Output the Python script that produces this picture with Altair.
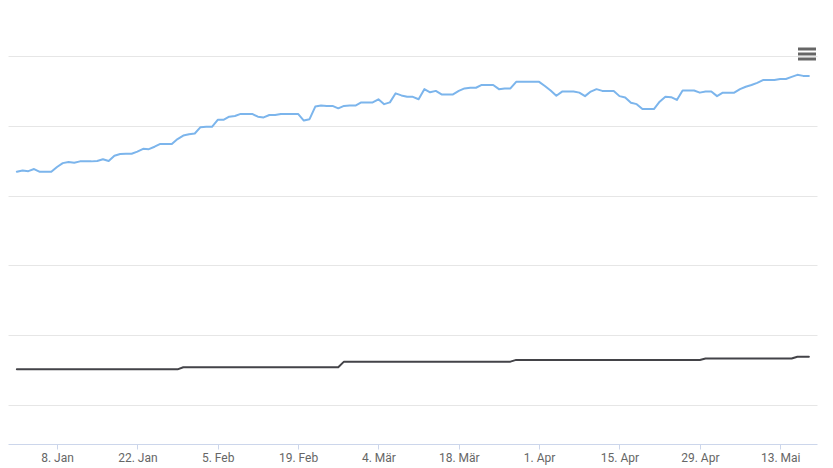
import altair as alt
import pandas as pd

# ---- data (daily values, 1 Jan – 18 May 2024) ----
dates = pd.date_range("2024-01-01", periods=139, freq="D").strftime("%Y-%m-%d").tolist()

series_blue = [
    66.8, 67.2, 67.0, 67.6, 66.8, 66.8, 66.8, 68.2, 69.3, 69.6,
    69.4, 69.8, 69.8, 69.8, 69.9, 70.4, 69.9, 71.4, 71.9, 72.0,
    72.0, 72.6, 73.4, 73.3, 74.0, 74.8, 74.8, 74.8, 76.2, 77.2,
    77.6, 77.8, 79.6, 79.7, 79.7, 81.7, 81.7, 82.6, 82.8, 83.4,
    83.4, 83.4, 82.6, 82.4, 83.1, 83.1, 83.4, 83.4, 83.4, 83.4,
    81.5, 81.9, 85.5, 85.8, 85.7, 85.7, 85.0, 85.7, 85.8, 85.8,
    86.7, 86.7, 86.7, 87.6, 86.2, 86.7, 89.3, 88.7, 88.3, 88.3,
    87.6, 90.5, 89.6, 90.0, 89.0, 89.0, 89.0, 90.0, 90.7, 90.9,
    90.9, 91.7, 91.7, 91.7, 90.5, 90.7, 90.7, 92.6, 92.6, 92.6,
    92.6, 92.6, 91.4, 90.1, 88.6, 89.8, 89.8, 89.8, 89.5, 88.5,
    89.8, 90.5, 90.0, 90.0, 90.0, 88.5, 88.1, 86.6, 86.2, 84.8,
    84.8, 84.8, 86.9, 88.3, 88.2, 87.4, 90.1, 90.1, 90.1, 89.5,
    89.8, 89.8, 88.5, 89.5, 89.5, 89.5, 90.5, 91.2, 91.7, 92.3,
    93.1, 93.1, 93.1, 93.4, 93.4, 94.0, 94.6, 94.3, 94.3,
]

series_dark = [
    10.2, 10.2, 10.2, 10.2, 10.2, 10.2, 10.2, 10.2, 10.2, 10.2,
    10.2, 10.2, 10.2, 10.2, 10.2, 10.2, 10.2, 10.2, 10.2, 10.2,
    10.2, 10.2, 10.2, 10.2, 10.2, 10.2, 10.2, 10.2, 10.2, 10.8,
    10.8, 10.8, 10.8, 10.8, 10.8, 10.8, 10.8, 10.8, 10.8, 10.8,
    10.8, 10.8, 10.8, 10.8, 10.8, 10.8, 10.8, 10.8, 10.8, 10.8,
    10.8, 10.8, 10.8, 10.8, 10.8, 10.8, 10.8, 12.4, 12.4, 12.4,
    12.4, 12.4, 12.4, 12.4, 12.4, 12.4, 12.4, 12.4, 12.4, 12.4,
    12.4, 12.4, 12.4, 12.4, 12.4, 12.4, 12.4, 12.4, 12.4, 12.4,
    12.4, 12.4, 12.4, 12.4, 12.4, 12.4, 12.4, 12.9, 12.9, 12.9,
    12.9, 12.9, 12.9, 12.9, 12.9, 12.9, 12.9, 12.9, 12.9, 12.9,
    12.9, 12.9, 12.9, 12.9, 12.9, 12.9, 12.9, 12.9, 12.9, 12.9,
    12.9, 12.9, 12.9, 12.9, 12.9, 12.9, 12.9, 12.9, 12.9, 12.9,
    13.3, 13.3, 13.3, 13.3, 13.3, 13.3, 13.3, 13.3, 13.3, 13.3,
    13.3, 13.3, 13.3, 13.3, 13.3, 13.3, 13.8, 13.8, 13.8,
]

series_names = ["A", "B"]
series_colors = ["#7cb5ec", "#434348"]

tick_dates = [(1, 8), (1, 22), (2, 5), (2, 19), (3, 4), (3, 18),
              (4, 1), (4, 15), (4, 29), (5, 13)]
months_de = ["Jan", "Feb", "Mär", "Apr", "Mai", "Jun",
             "Jul", "Aug", "Sep", "Okt", "Nov", "Dez"]
grid_values = [0, 20, 40, 60, 80, 100]

# ---- table ----
df = pd.DataFrame({
    "date": dates + dates,
    "series": [series_names[0]] * len(dates) + [series_names[1]] * len(dates),
    "value": series_blue + series_dark,
})

month_arr = "[" + ",".join("'" + m + "'" for m in months_de) + "]"
label_expr = "utcdate(datum.value) + '. ' + " + month_arr + "[utcmonth(datum.value)]"

x_enc = alt.X(
    "date:T",
    scale=alt.Scale(
        type="utc",
        domain=[
            alt.DateTime(year=2023, month=12, date=30, hours=11, utc=True),
            alt.DateTime(year=2024, month=5, date=19, hours=10, utc=True),
        ],
    ),
    axis=alt.Axis(
        values=[alt.DateTime(year=2024, month=m, date=d, utc=True) for m, d in tick_dates],
        labelExpr=label_expr,
        title=None,
        grid=False,
        domainColor="#ccd6eb",
        tickColor="#ccd6eb",
        tickSize=5,
        labelFont="Roboto",
        labelFontSize=12,
        labelColor="#666666",
        labelPadding=3,
        labelAngle=0,
        labelOverlap=False,
        labelFlush=False,
    ),
)

y_enc = alt.Y(
    "value:Q",
    scale=alt.Scale(domain=[-11.2, 100], nice=False, zero=False),
    axis=alt.Axis(
        values=grid_values,
        labels=False,
        ticks=False,
        domain=False,
        grid=True,
        gridColor="#e6e6e6",
        gridWidth=1,
        title=None,
    ),
)

lines = alt.Chart(df).mark_line(strokeWidth=2, strokeJoin="round", strokeCap="round").encode(
    x=x_enc,
    y=y_enc,
    color=alt.Color("series:N",
                    scale=alt.Scale(domain=series_names, range=series_colors),
                    legend=None),
)

# hamburger (context menu) icon, top right
icon_src = alt.Data(values=[{"k": 0}])
icon_layers = [
    alt.Chart(icon_src).mark_rule(color="#666666", strokeWidth=3).encode(
        x=alt.value(790), x2=alt.value(808), y=alt.value(yy)
    )
    for yy in (-7, -2, 3)
]

chart = alt.layer(lines, *icon_layers).properties(
    width=809,
    height=388,
    autosize="none",
    padding={"left": 0, "top": 48, "right": 8, "bottom": 24},
    background="white",
).configure_view(stroke=None)

chart.save("out.html", embed_options={"renderer": "svg", "actions": False})
